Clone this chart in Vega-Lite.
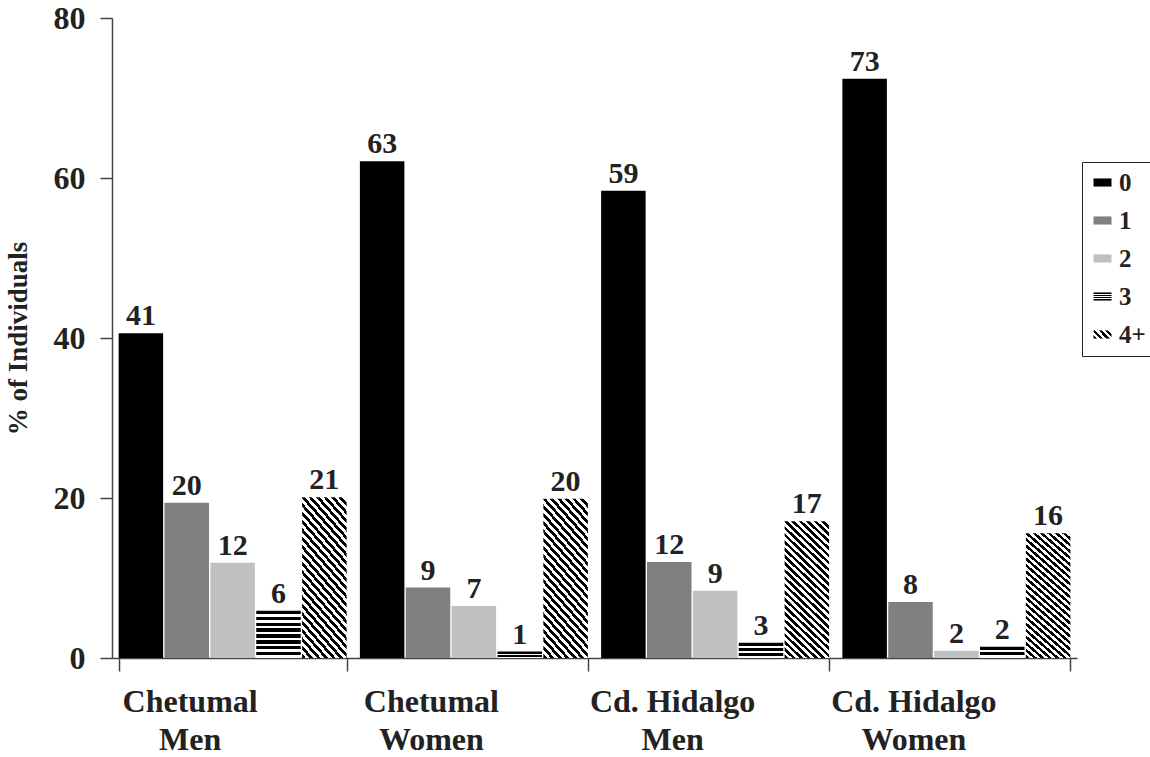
{
  "$schema": "https://vega.github.io/schema/vega-lite/v6.json",
  "width": 965,
  "height": 640,
  "autosize": {"type": "none"},
  "padding": {"left": 112, "top": 18, "right": 73, "bottom": 99},
  "background": "white",
  "config": {"view": {"stroke": null}, "font": "Liberation Serif"},
  "data": {"values": [
    {"group": "Chetumal|Men", "cat": "0", "value": 40.6, "label": "41"},
    {"group": "Chetumal|Men", "cat": "1", "value": 19.4, "label": "20"},
    {"group": "Chetumal|Men", "cat": "2", "value": 11.9, "label": "12"},
    {"group": "Chetumal|Men", "cat": "3", "value": 5.9, "label": "6"},
    {"group": "Chetumal|Men", "cat": "4+", "value": 20.1, "label": "21"},
    {"group": "Chetumal|Women", "cat": "0", "value": 62.1, "label": "63"},
    {"group": "Chetumal|Women", "cat": "1", "value": 8.8, "label": "9"},
    {"group": "Chetumal|Women", "cat": "2", "value": 6.5, "label": "7"},
    {"group": "Chetumal|Women", "cat": "3", "value": 0.8, "label": "1"},
    {"group": "Chetumal|Women", "cat": "4+", "value": 19.9, "label": "20"},
    {"group": "Cd. Hidalgo|Men", "cat": "0", "value": 58.4, "label": "59"},
    {"group": "Cd. Hidalgo|Men", "cat": "1", "value": 12.0, "label": "12"},
    {"group": "Cd. Hidalgo|Men", "cat": "2", "value": 8.4, "label": "9"},
    {"group": "Cd. Hidalgo|Men", "cat": "3", "value": 1.9, "label": "3"},
    {"group": "Cd. Hidalgo|Men", "cat": "4+", "value": 17.1, "label": "17"},
    {"group": "Cd. Hidalgo|Women", "cat": "0", "value": 72.4, "label": "73"},
    {"group": "Cd. Hidalgo|Women", "cat": "1", "value": 7.0, "label": "8"},
    {"group": "Cd. Hidalgo|Women", "cat": "2", "value": 0.9, "label": "2"},
    {"group": "Cd. Hidalgo|Women", "cat": "3", "value": 1.4, "label": "2"},
    {"group": "Cd. Hidalgo|Women", "cat": "4+", "value": 15.6, "label": "16"}
  ]},
  "encoding": {
    "x": {
      "field": "group", "type": "nominal", "sort": null,
      "scale": {"paddingInner": 0.055, "paddingOuter": 0.0275},
      "axis": {
        "title": null, "labelExpr": "split(datum.label, '|')", "labelAngle": 0,
        "labelFontSize": 32, "labelFontWeight": "bold", "labelColor": "#222", "labelFont": "Liberation Serif",
        "labelLineHeight": 38, "labelPadding": 15, "labelOffset": -43, "labelBaseline": "top",
        "tickSize": 13, "tickBand": "extent", "tickColor": "#444", "tickWidth": 1.5,
        "domainColor": "#444", "domainWidth": 1.5
      }
    },
    "xOffset": {"field": "cat", "type": "nominal", "scale": {"paddingInner": 0.03, "paddingOuter": 0}},
    "y": {
      "field": "value", "type": "quantitative",
      "scale": {"domain": [0, 80], "nice": false},
      "axis": {
        "title": "% of Individuals", "titleFontSize": 27, "titleFontWeight": "bold", "titleColor": "#222", "titleFont": "Liberation Serif",
        "titleAngle": -90, "titleX": -94, "titleY": 320, "titleAlign": "center", "titleBaseline": "middle",
        "values": [0, 20, 40, 60, 80], "grid": false,
        "labelFontSize": 32, "labelFontWeight": "bold", "labelColor": "#222", "labelFont": "Liberation Serif", "labelPadding": 15,
        "tickSize": 12, "tickColor": "#444", "tickWidth": 1.5, "domainColor": "#444", "domainWidth": 1.5
      }
    }
  },
  "layer": [
    {
      "mark": {"type": "bar", "strokeWidth": 0},
      "encoding": {
        "stroke": {
          "field": "cat", "type": "nominal",
          "scale": {
            "domain": ["0", "1", "2", "3", "4+"],
            "range": ["#000000", "#808080", "#c0c0c0", "#000000", "#000000"]
          },
          "legend": {
            "title": null, "orient": "none", "legendX": 970, "legendY": 144,
            "strokeColor": "#222", "padding": 8,
            "symbolType": "M-1,-0.45L1,-0.45L1,0.45L-1,0.45Z", "symbolSize": 324, "symbolStrokeWidth": 0,
            "labelFontSize": 25, "labelFontWeight": "bold", "labelColor": "#222", "labelFont": "Liberation Serif",
            "labelOffset": 4, "rowPadding": 12
          }
        },
        "fill": {
          "field": "cat", "type": "nominal",
          "scale": {
            "range": ["#000000", "#808080", "#c0c0c0", "#404040", "#606060"]
          },
          "legend": null,
          "condition": [
            {"test": "datum.cat === 'legend-only'", "value": {"expr": "datum.value === '3' ? {gradient: 'linear', x1: 0, y1: 0, x2: 0, y2: 1, stops: [{offset: 0, color: '#000'}, {offset: 0.15, color: '#000'}, {offset: 0.15, color: '#fff'}, {offset: 0.28, color: '#fff'}, {offset: 0.28, color: '#000'}, {offset: 0.43, color: '#000'}, {offset: 0.43, color: '#fff'}, {offset: 0.57, color: '#fff'}, {offset: 0.57, color: '#000'}, {offset: 0.72, color: '#000'}, {offset: 0.72, color: '#fff'}, {offset: 0.85, color: '#fff'}, {offset: 0.85, color: '#000'}, {offset: 1, color: '#000'}]} : datum.value === '4+' ? {gradient: 'linear', x1: 0, y1: 1, x2: 1.206, y2: 0.464, stops: [{offset: 0, color: '#000'}, {offset: 0.125, color: '#000'}, {offset: 0.125, color: '#fff'}, {offset: 0.25, color: '#fff'}, {offset: 0.25, color: '#000'}, {offset: 0.375, color: '#000'}, {offset: 0.375, color: '#fff'}, {offset: 0.5, color: '#fff'}, {offset: 0.5, color: '#000'}, {offset: 0.625, color: '#000'}, {offset: 0.625, color: '#fff'}, {offset: 0.75, color: '#fff'}, {offset: 0.75, color: '#000'}, {offset: 0.875, color: '#000'}, {offset: 0.875, color: '#fff'}, {offset: 1, color: '#fff'}]} : datum.value === '0' ? '#000000' : datum.value === '1' ? '#808080' : '#c0c0c0'"}},
            {"test": "datum.cat === '4+'", "value": {"gradient": "linear", "x1": 0, "y1": 1, "x2": 0.37, "y2": -0.19, "stops": [
              {"offset": 0, "color": "#000"}, {"offset": 0.02, "color": "#000"}, {"offset": 0.02, "color": "#fff"}, {"offset": 0.04, "color": "#fff"},
              {"offset": 0.04, "color": "#000"}, {"offset": 0.06, "color": "#000"}, {"offset": 0.06, "color": "#fff"}, {"offset": 0.08, "color": "#fff"},
              {"offset": 0.08, "color": "#000"}, {"offset": 0.10, "color": "#000"}, {"offset": 0.10, "color": "#fff"}, {"offset": 0.12, "color": "#fff"},
              {"offset": 0.12, "color": "#000"}, {"offset": 0.14, "color": "#000"}, {"offset": 0.14, "color": "#fff"}, {"offset": 0.16, "color": "#fff"},
              {"offset": 0.16, "color": "#000"}, {"offset": 0.18, "color": "#000"}, {"offset": 0.18, "color": "#fff"}, {"offset": 0.20, "color": "#fff"},
              {"offset": 0.20, "color": "#000"}, {"offset": 0.22, "color": "#000"}, {"offset": 0.22, "color": "#fff"}, {"offset": 0.24, "color": "#fff"},
              {"offset": 0.24, "color": "#000"}, {"offset": 0.26, "color": "#000"}, {"offset": 0.26, "color": "#fff"}, {"offset": 0.28, "color": "#fff"},
              {"offset": 0.28, "color": "#000"}, {"offset": 0.30, "color": "#000"}, {"offset": 0.30, "color": "#fff"}, {"offset": 0.32, "color": "#fff"},
              {"offset": 0.32, "color": "#000"}, {"offset": 0.34, "color": "#000"}, {"offset": 0.34, "color": "#fff"}, {"offset": 0.36, "color": "#fff"},
              {"offset": 0.36, "color": "#000"}, {"offset": 0.38, "color": "#000"}, {"offset": 0.38, "color": "#fff"}, {"offset": 0.40, "color": "#fff"},
              {"offset": 0.40, "color": "#000"}, {"offset": 0.42, "color": "#000"}, {"offset": 0.42, "color": "#fff"}, {"offset": 0.44, "color": "#fff"},
              {"offset": 0.44, "color": "#000"}, {"offset": 0.46, "color": "#000"}, {"offset": 0.46, "color": "#fff"}, {"offset": 0.48, "color": "#fff"},
              {"offset": 0.48, "color": "#000"}, {"offset": 0.50, "color": "#000"}, {"offset": 0.50, "color": "#fff"}, {"offset": 0.52, "color": "#fff"},
              {"offset": 0.52, "color": "#000"}, {"offset": 0.54, "color": "#000"}, {"offset": 0.54, "color": "#fff"}, {"offset": 0.56, "color": "#fff"},
              {"offset": 0.56, "color": "#000"}, {"offset": 0.58, "color": "#000"}, {"offset": 0.58, "color": "#fff"}, {"offset": 0.60, "color": "#fff"},
              {"offset": 0.60, "color": "#000"}, {"offset": 0.62, "color": "#000"}, {"offset": 0.62, "color": "#fff"}, {"offset": 0.64, "color": "#fff"},
              {"offset": 0.64, "color": "#000"}, {"offset": 0.66, "color": "#000"}, {"offset": 0.66, "color": "#fff"}, {"offset": 0.68, "color": "#fff"},
              {"offset": 0.68, "color": "#000"}, {"offset": 0.70, "color": "#000"}, {"offset": 0.70, "color": "#fff"}, {"offset": 0.72, "color": "#fff"},
              {"offset": 0.72, "color": "#000"}, {"offset": 0.74, "color": "#000"}, {"offset": 0.74, "color": "#fff"}, {"offset": 0.76, "color": "#fff"},
              {"offset": 0.76, "color": "#000"}, {"offset": 0.78, "color": "#000"}, {"offset": 0.78, "color": "#fff"}, {"offset": 0.80, "color": "#fff"},
              {"offset": 0.80, "color": "#000"}, {"offset": 0.82, "color": "#000"}, {"offset": 0.82, "color": "#fff"}, {"offset": 0.84, "color": "#fff"},
              {"offset": 0.84, "color": "#000"}, {"offset": 0.86, "color": "#000"}, {"offset": 0.86, "color": "#fff"}, {"offset": 0.88, "color": "#fff"},
              {"offset": 0.88, "color": "#000"}, {"offset": 0.90, "color": "#000"}, {"offset": 0.90, "color": "#fff"}, {"offset": 0.92, "color": "#fff"},
              {"offset": 0.92, "color": "#000"}, {"offset": 0.94, "color": "#000"}, {"offset": 0.94, "color": "#fff"}, {"offset": 0.96, "color": "#fff"},
              {"offset": 0.96, "color": "#000"}, {"offset": 0.98, "color": "#000"}, {"offset": 0.98, "color": "#fff"}, {"offset": 1, "color": "#fff"}]}},
            {"test": "datum.cat === '3' && datum.group === 'Chetumal|Men'", "value": {"gradient": "linear", "x1": 0, "y1": 0, "x2": 0, "y2": 1, "stops": [
              {"offset": 0, "color": "#000"}, {"offset": 0.069, "color": "#000"}, {"offset": 0.069, "color": "#fff"}, {"offset": 0.125, "color": "#fff"},
              {"offset": 0.125, "color": "#000"}, {"offset": 0.194, "color": "#000"}, {"offset": 0.194, "color": "#fff"}, {"offset": 0.25, "color": "#fff"},
              {"offset": 0.25, "color": "#000"}, {"offset": 0.319, "color": "#000"}, {"offset": 0.319, "color": "#fff"}, {"offset": 0.375, "color": "#fff"},
              {"offset": 0.375, "color": "#000"}, {"offset": 0.444, "color": "#000"}, {"offset": 0.444, "color": "#fff"}, {"offset": 0.5, "color": "#fff"},
              {"offset": 0.5, "color": "#000"}, {"offset": 0.569, "color": "#000"}, {"offset": 0.569, "color": "#fff"}, {"offset": 0.625, "color": "#fff"},
              {"offset": 0.625, "color": "#000"}, {"offset": 0.694, "color": "#000"}, {"offset": 0.694, "color": "#fff"}, {"offset": 0.75, "color": "#fff"},
              {"offset": 0.75, "color": "#000"}, {"offset": 0.819, "color": "#000"}, {"offset": 0.819, "color": "#fff"}, {"offset": 0.875, "color": "#fff"},
              {"offset": 0.875, "color": "#000"}, {"offset": 0.944, "color": "#000"}, {"offset": 0.944, "color": "#fff"}, {"offset": 1, "color": "#fff"}]}},
            {"test": "datum.cat === '3' && datum.group === 'Chetumal|Women'", "value": {"gradient": "linear", "x1": 0, "y1": 0, "x2": 0, "y2": 1, "stops": [
              {"offset": 0, "color": "#000"}, {"offset": 0.3, "color": "#000"}, {"offset": 0.3, "color": "#fff"}, {"offset": 0.5, "color": "#fff"},
              {"offset": 0.5, "color": "#000"}, {"offset": 0.8, "color": "#000"}, {"offset": 0.8, "color": "#fff"}, {"offset": 1, "color": "#fff"}]}},
            {"test": "datum.cat === '3' && datum.group === 'Cd. Hidalgo|Men'", "value": {"gradient": "linear", "x1": 0, "y1": 0, "x2": 0, "y2": 1, "stops": [
              {"offset": 0, "color": "#000"}, {"offset": 0.18, "color": "#000"}, {"offset": 0.18, "color": "#fff"}, {"offset": 0.333, "color": "#fff"},
              {"offset": 0.333, "color": "#000"}, {"offset": 0.513, "color": "#000"}, {"offset": 0.513, "color": "#fff"}, {"offset": 0.667, "color": "#fff"},
              {"offset": 0.667, "color": "#000"}, {"offset": 0.847, "color": "#000"}, {"offset": 0.847, "color": "#fff"}, {"offset": 1, "color": "#fff"}]}},
            {"test": "datum.cat === '3' && datum.group === 'Cd. Hidalgo|Women'", "value": {"gradient": "linear", "x1": 0, "y1": 0, "x2": 0, "y2": 1, "stops": [
              {"offset": 0, "color": "#000"}, {"offset": 0.27, "color": "#000"}, {"offset": 0.27, "color": "#fff"}, {"offset": 0.5, "color": "#fff"},
              {"offset": 0.5, "color": "#000"}, {"offset": 0.77, "color": "#000"}, {"offset": 0.77, "color": "#fff"}, {"offset": 1, "color": "#fff"}]}}
          ]
        }
      }
    },
    {
      "mark": {"type": "text", "dy": -8, "baseline": "alphabetic", "align": "center", "fontSize": 30, "fontWeight": "bold", "font": "Liberation Serif", "color": "#222"},
      "encoding": {"text": {"field": "label"}}
    }
  ]
}
